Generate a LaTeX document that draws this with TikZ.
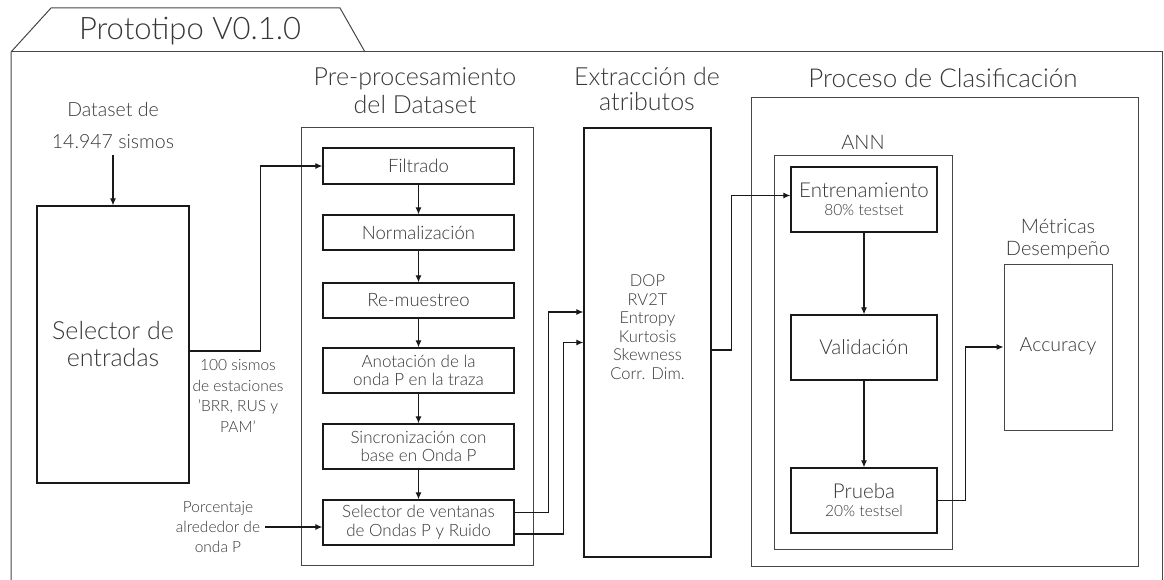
\documentclass[tikz,border=0pt]{standalone}
\usepackage{fontspec}
\setmainfont{Lato}[UprightFont=* Light]
\usetikzlibrary{arrows.meta,calc}
\definecolor{txt}{RGB}{55,55,55}
\definecolor{frame}{RGB}{70,70,70}
\newcommand{\fs}[2]{\fontsize{#1}{#2}\selectfont}
\begin{document}
\begin{tikzpicture}[x=1pt,y=-1pt,
  box/.style={draw=black!90,line width=1.3pt,inner sep=0pt,align=center,text=txt},
  grp/.style={draw=frame,line width=1pt,inner sep=0pt},
  lbl/.style={text=txt,inner sep=0pt,align=center},
  arr/.style={draw=black!90,line width=1.1pt,-{Latex[length=7pt,width=6pt]}},
  ln/.style={draw=black!90,line width=1.1pt}]
\useasboundingbox (0,0) rectangle (1164,580);
% outer frame with tab
\draw[draw=frame,line width=1pt] (11,580) -- (11,52) -- (51,8) -- (340,8) -- (365,52);
\draw[draw=frame,line width=1pt] (11,52) -- (1162,52) -- (1162,580);
\node[lbl,font=\fs{31}{34}] (title) at (190,31) {Prototipo V0.1.0};

% left
\node[lbl,font=\fs{19.5}{32}] (data) at (113,125) {Dataset de\\14.947 sismos};
\node[box,minimum width=152pt,minimum height=277pt,font=\fs{25}{27}] (sel) at (113,344.5) {Selector de\\entradas};
\node[lbl,font=\fs{15.5}{20.5}] (lab100) at (238,396) {100 sismos\\de estaciones\\'BRR, RUS y\\PAM'};
\node[lbl,font=\fs{15.5}{20}] (porc) at (218,527) {Porcentaje\\alrededor de\\onda P};

% preprocessing
\node[lbl,font=\fs{25}{28}] (tpre) at (415,91) {Pre-procesamiento\\del Dataset};
\node[grp,minimum width=232pt,minimum height=437pt] (pre) at (417,346.5) {};
\node[box,minimum width=191pt,minimum height=36pt,font=\fs{18.5}{20}] (filt) at (418.5,166) {Filtrado};
\node[box,minimum width=191pt,minimum height=35pt,font=\fs{18.5}{20}] (norm) at (418.5,232.5) {Normalización};
\node[box,minimum width=191pt,minimum height=35pt,font=\fs{18.5}{20}] (rem) at (418.5,300.5) {Re-muestreo};
\node[box,minimum width=191pt,minimum height=45pt,font=\fs{17}{18.5}] (anot) at (418.5,370.5) {Anotación de la\\onda P en la traza};
\node[box,minimum width=191pt,minimum height=45pt,font=\fs{17}{18.5}] (sinc) at (418.5,446.5) {Sincronización con\\base en Onda P};
\node[box,minimum width=191pt,minimum height=45pt,font=\fs{17}{18.5}] (selv) at (418.5,522.5) {Selector de ventanas\\de Ondas P y Ruido};

% extraction
\node[lbl,font=\fs{25}{25}] (text) at (647,89) {Extracción de\\atributos};
\node[box,minimum width=127pt,minimum height=429pt] (ext) at (647.5,342.5) {};
\node[lbl,font=\fs{16.5}{18.5}] (attr) at (647.5,327) {DOP\\RV2T\\Entropy\\Kurtosis\\Skewness\\Corr. Dim.};

% classification
\node[lbl,font=\fs{26}{28}] (tcla) at (943,78) {Proceso de Clasificación};
\node[grp,minimum width=387pt,minimum height=468pt] (cla) at (944.5,332) {};
\node[lbl,font=\fs{20}{22}] (tann) at (863,142) {ANN};
\node[grp,minimum width=178pt,minimum height=393pt] (ann) at (863,352.5) {};
\node[box,minimum width=146pt,minimum height=65pt,font=\fs{15.5}{18}] (entr) at (864,199.5) {{\fs{20.5}{24}Entrenamiento}\\80\% testset};
\node[box,minimum width=146pt,minimum height=65pt,font=\fs{20.5}{22}] (val) at (864,347.5) {Validación};
\node[box,minimum width=146pt,minimum height=65pt,font=\fs{15.5}{18}] (prue) at (864,500.5) {{\fs{20.5}{24}Prueba}\\20\% testsel};
\node[lbl,font=\fs{20}{22}] (tmet) at (1058,239) {Métricas\\Desempeño};
\node[grp,minimum width=108pt,minimum height=166pt] (met) at (1058,347) {};
\node[lbl,font=\fs{19.5}{20}] (acc) at (1058,346) {Accuracy};

% connectors
\draw[arr] (data.south) ++(0,7) -- (sel.north);
\draw[arr] ([yshift=-6.5pt]sel.east) -- ++(71,0) |- (filt.west);
\draw[arr] (porc.east) ++(5,0) -- (selv.west |- porc.east);
\draw[arr] (filt.south) -- (norm.north);
\draw[arr] (norm.south) -- (rem.north);
\draw[arr] (rem.south) -- (anot.north);
\draw[arr] (anot.south) -- (sinc.north);
\draw[arr] (sinc.south) -- (selv.north);
\draw[arr] ([yshift=10pt]selv.east) -- ++(34,0) |- ([yshift=30.5pt]ext.west);
\draw[arr] ([yshift=-11.5pt]selv.east) -- ++(49,0) |- (ext.west);
\draw[arr] ([yshift=-7.5pt]ext.east) -- ++(20,0) |- ([yshift=4pt]entr.west);
\draw[arr] (entr.south) -- (val.north);
\draw[arr] (val.south) -- (prue.north);
\draw[arr] (prue.east) -- ++(28,0) |- (met.west);
\end{tikzpicture}
\end{document}
